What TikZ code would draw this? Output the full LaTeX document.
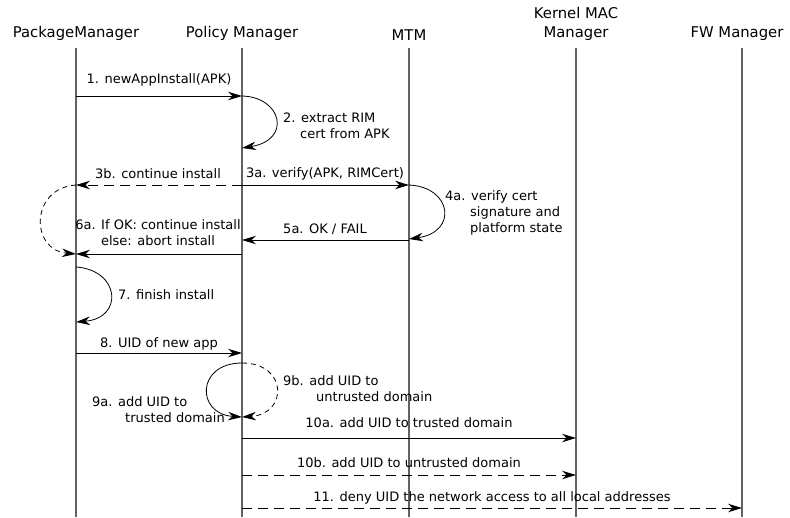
\documentclass[tikz,border=0pt]{standalone}
\usepackage{fontspec}
\setmainfont{DejaVu Sans}
\usetikzlibrary{arrows.meta}
\begin{document}
\begin{tikzpicture}[x=1pt,y=-1pt,
  lifeline/.style={line width=1.1pt,draw=black!62},
  tip/.style={-{Stealth[length=14pt,width=8.5pt,inset=4.5pt]}},
  msg/.style={line width=1pt,tip},
  reply/.style={msg,dash pattern=on 10pt off 6pt},
  loop/.style={line width=0.8pt,tip},
  dloop/.style={loop,dash pattern=on 5pt off 4pt},
  head/.style={font=\fontsize{14.8}{18.5}\selectfont,inner sep=0pt},
  lbl/.style={font=\fontsize{13}{16}\selectfont,inner sep=0pt},
]
\useasboundingbox (0,0) rectangle (790,517);

% participants
\node[head,anchor=base] (hPM)  at (76,37)  {PackageManager};
\node[head,anchor=base] (hPol) at (242,37) {Policy Manager};
\node[head,anchor=base] (hMTM) at (409,40) {MTM};
\node[head,anchor=base] (hKM1) at (576,18) {Kernel MAC};
\node[head,anchor=base] (hKM2) at (576,37) {Manager};
\node[head,anchor=base] (hFW)  at (737,37) {FW Manager};

% lifelines
\coordinate (pm)  at (76,48);
\coordinate (pol) at (242,48);
\coordinate (mtm) at (409,48);
\coordinate (km)  at (576,48);
\coordinate (fw)  at (742,48);
\coordinate (bot) at (0,517);
\foreach \p in {pm,pol,mtm,km,fw}
  \draw[lifeline] (\p) -- (\p |- bot);

% message rows
\coordinate (r1)  at (0,96);
\coordinate (r2)  at (0,148);
\coordinate (r3)  at (0,185);
\coordinate (r4)  at (0,239);
\coordinate (r5)  at (0,240);
\coordinate (r6)  at (0,254);
\coordinate (r7a) at (0,267);
\coordinate (r7b) at (0,322);
\coordinate (r8)  at (0,353);
\coordinate (r9a) at (0,363);
\coordinate (r9b) at (0,417);
\coordinate (r10) at (0,438);
\coordinate (r11) at (0,475);
\coordinate (r12) at (0,508);

% 1
\draw[msg] (pm |- r1) -- (pol |- r1);
\node[lbl,anchor=base] (l1) at (159,83) {1. newAppInstall(APK)};

% 2
\draw[loop] (pol |- r1) .. controls (282,97) and (292,140) .. (pol |- r2);
\node[lbl,anchor=base west] (l2a) at (283,122) {2. extract RIM};
\node[lbl,anchor=base west] (l2b) at (300,138) {cert from APK};

% 3a / 3b
\draw[msg] (pol |- r3) -- (mtm |- r3);
\node[lbl,anchor=base] (l3a) at (325,177) {3a. verify(APK, RIMCert)};
\draw[reply] (pol |- r3) -- (pm |- r3);
\node[lbl,anchor=base] (l3b) at (158,178) {3b. continue install};
\draw[dloop] (pm |- r3) .. controls (30,188) and (30,250) .. (pm |- r6);

% 4a
\draw[loop] (mtm |- r3) .. controls (452,187) and (458,232) .. (mtm |- r4);
\node[lbl,anchor=base west] (l4a) at (445,200) {4a. verify cert};
\node[lbl,anchor=base west] (l4b) at (470,216) {signature and};
\node[lbl,anchor=base west] (l4c) at (470,232) {platform state};

% 5a
\draw[msg] (mtm |- r5) -- (pol |- r5);
\node[lbl,anchor=base] (l5) at (325,233) {5a. OK / FAIL};

% 6a
\draw[msg] (pol |- r6) -- (pm |- r6);
\node[lbl,anchor=base] (l6a) at (158,229) {6a. If OK: continue install};
\node[lbl,anchor=base] (l6b) at (158,245) {else: abort install};

% 7
\draw[loop] (pm |- r7a) .. controls (120,270) and (124,318) .. (pm |- r7b);
\node[lbl,anchor=base west] (l7) at (118,299) {7. finish install};

% 8
\draw[msg] (pm |- r8) -- (pol |- r8);
\node[lbl,anchor=base] (l8) at (159,347) {8. UID of new app};

% 9a / 9b
\draw[loop] (pol |- r9a) .. controls (196,363) and (196,414) .. (pol |- r9b);
\draw[dloop] (pol |- r9a) .. controls (288,363) and (288,414) .. (pol |- r9b);
\node[lbl,anchor=base west] (l9a1) at (92,406) {9a. add UID to};
\node[lbl,anchor=base west] (l9a2) at (125,422) {trusted domain};
\node[lbl,anchor=base west] (l9b1) at (283,385) {9b. add UID to};
\node[lbl,anchor=base west] (l9b2) at (316,401) {untrusted domain};

% 10a / 10b
\draw[msg] (pol |- r10) -- (km |- r10);
\node[lbl,anchor=base] (l10a) at (409,427) {10a. add UID to trusted domain};
\draw[reply] (pol |- r11) -- (km |- r11);
\node[lbl,anchor=base] (l10b) at (409,467) {10b. add UID to untrusted domain};

% 11
\draw[reply] (pol |- r12) -- (fw |- r12);
\node[lbl,anchor=base] (l11) at (492,501) {11. deny UID the network access to all local addresses};
\end{tikzpicture}
\end{document}
